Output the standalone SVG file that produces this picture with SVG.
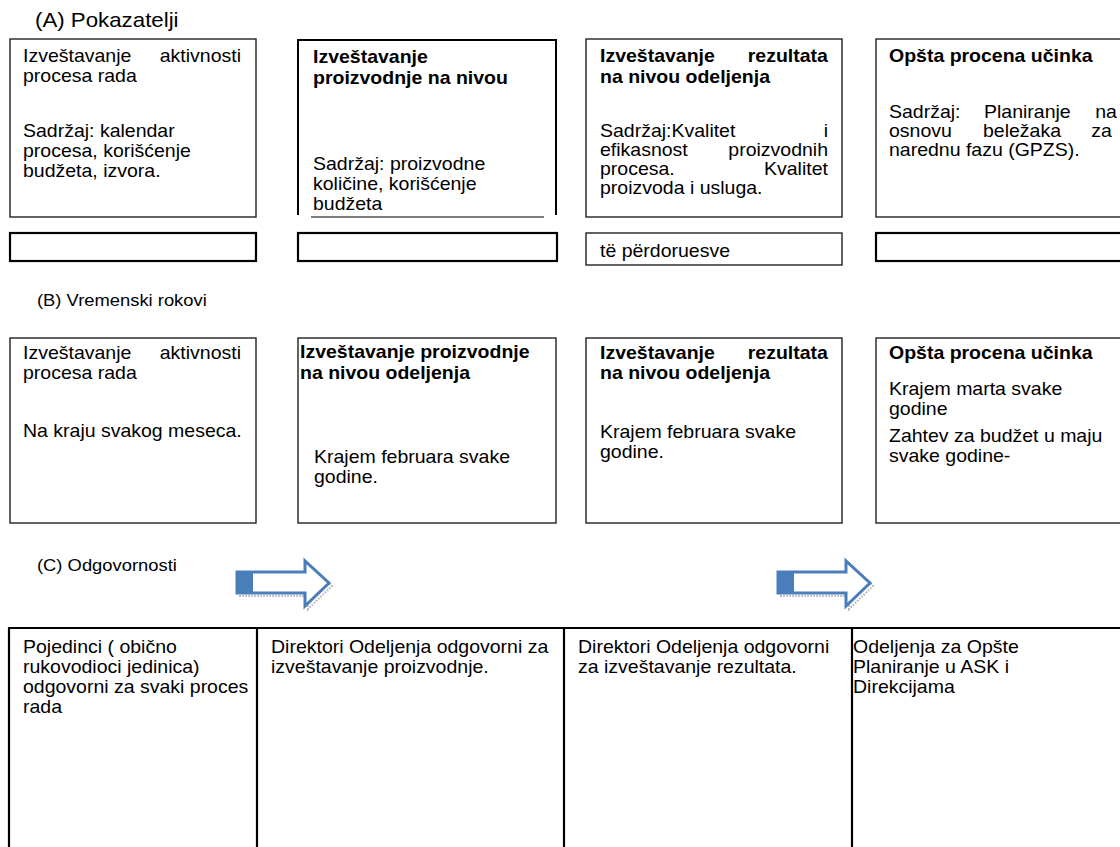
<svg xmlns="http://www.w3.org/2000/svg" width="1120" height="847" viewBox="0 0 1120 847">
<style>
text{font-family:"Liberation Sans",Arial,sans-serif;font-size:17.5px;fill:#000;transform-box:fill-box;transform-origin:left center;transform:scale(1.114,1)}
.b{font-weight:bold}
.e{text-anchor:end;transform-origin:right center}
.h{font-size:20px}
.s{font-size:16.5px}
.box{fill:#fff;stroke:#222;stroke-width:1.4}
.thick{fill:#fff;stroke:#000;stroke-width:2.2}
.grid{stroke:#000;stroke-width:2.2;fill:none}
.arr{fill:#fff;stroke:#4a7ebb;stroke-width:3;stroke-linejoin:miter}
.shadow{fill:none;stroke:#b0b0b0;stroke-width:2;stroke-dasharray:1.5 1.5}
</style>
<rect width="1120" height="847" fill="#fff"/>

<text class="h" x="35" y="27">(A) Pokazatelji</text>
<text class="s" x="37" y="306">(B) Vremenski rokovi</text>
<text class="s" x="37" y="571">(C) Odgovornosti</text>

<g id="a1">
<rect class="box" x="10" y="39" width="246" height="178"/>
<text x="23" y="62">Izveštavanje</text><text class="e" x="241" y="62">aktivnosti</text>
<text x="23" y="82">procesa rada</text>
<text x="23" y="137">Sadržaj: kalendar</text>
<text x="23" y="157">procesa, korišćenje</text>
<text x="23" y="177">budžeta, izvora.</text>
</g>
<g id="a2">
<path d="M298,215 V40 H556 V215" fill="none" stroke="#000" stroke-width="2"/>
<line x1="311" y1="217" x2="544" y2="217" stroke="#555" stroke-width="1.5"/>
<text class="b" x="313" y="63">Izveštavanje</text>
<text class="b" x="313" y="84">proizvodnje na nivou</text>
<text x="313" y="170">Sadržaj: proizvodne</text>
<text x="313" y="190">količine, korišćenje</text>
<text x="313" y="210">budžeta</text>
</g>
<g id="a3">
<rect class="box" x="586" y="39" width="256" height="178"/>
<text class="b" x="600" y="62">Izveštavanje</text><text class="b e" x="828" y="62">rezultata</text>
<text class="b" x="600" y="83">na nivou odeljenja</text>
<text x="600" y="137">Sadržaj:Kvalitet</text><text class="e" x="828" y="137">i</text>
<text x="600" y="156">efikasnost</text><text class="e" x="828" y="156">proizvodnih</text>
<text x="600" y="175">procesa.</text><text class="e" x="828" y="175">Kvalitet</text>
<text x="600" y="194">proizvoda i usluga.</text>
</g>
<g id="a4">
<rect class="box" x="876" y="39" width="250" height="178"/>
<text class="b" x="889" y="62">Opšta procena učinka</text>
<text x="889" y="118">Sadržaj:</text><text x="984" y="118">Planiranje</text><text class="e" x="1117" y="118">na</text>
<text x="889" y="137">osnovu</text><text x="983" y="137">beležaka</text><text class="e" x="1112" y="137">za</text>
<text x="889" y="156">narednu fazu (GPZS).</text>
</g>

<g id="a1s"><rect class="thick" x="10" y="233" width="246" height="28"/></g>
<g id="a2s"><rect class="thick" x="298" y="233" width="259" height="28"/></g>
<g id="a3s"><rect class="box" x="586" y="233" width="256" height="32"/><text x="600" y="257">të përdoruesve</text></g>
<g id="a4s"><rect class="thick" x="876" y="233" width="250" height="28"/></g>

<g id="b1">
<rect class="box" x="10" y="338" width="246" height="185"/>
<text x="23" y="359">Izveštavanje</text><text class="e" x="241" y="359">aktivnosti</text>
<text x="23" y="379">procesa rada</text>
<text x="23" y="437">Na kraju svakog meseca.</text>
</g>
<g id="b2">
<rect class="box" x="298" y="338" width="258" height="185"/>
<text class="b" x="300" y="358">Izveštavanje proizvodnje</text>
<text class="b" x="300" y="379">na nivou odeljenja</text>
<text x="314" y="463">Krajem februara svake</text>
<text x="314" y="483">godine.</text>
</g>
<g id="b3">
<rect class="box" x="586" y="338" width="256" height="185"/>
<text class="b" x="600" y="359">Izveštavanje</text><text class="b e" x="828" y="359">rezultata</text>
<text class="b" x="600" y="379">na nivou odeljenja</text>
<text x="600" y="438">Krajem februara svake</text>
<text x="600" y="458">godine.</text>
</g>
<g id="b4">
<rect class="box" x="876" y="338" width="250" height="185"/>
<text class="b" x="889" y="359">Opšta procena učinka</text>
<text x="889" y="395">Krajem marta svake</text>
<text x="889" y="415">godine</text>
<text x="889" y="442">Zahtev za budžet u maju</text>
<text x="889" y="462">svake godine-</text>
</g>

<g id="connectors">
<g id="arrow1">
<path class="shadow" d="M240,575 H308 V564 L332,586 L308,609 V596 H240 Z"/>
<path class="arr" d="M237,572 H305 V561 L329,583 L305,606 V593 H237 Z"/>
<rect x="236" y="571" width="17" height="23" fill="#4a7ebb"/>
</g>
<g id="arrow2">
<path class="shadow" d="M781,575 H849 V564 L873,586 L849,609 V596 H781 Z"/>
<path class="arr" d="M778,572 H846 V561 L870,583 L846,606 V593 H778 Z"/>
<rect x="777" y="571" width="17" height="23" fill="#4a7ebb"/>
</g>
</g>

<g id="table">
<path class="grid" d="M8,628 H1120 M9,628 V847 M257,628 V847 M564,628 V847 M852,628 V847"/>
</g>
<g id="c1">
<text x="23" y="653">Pojedinci ( obično</text>
<text x="23" y="673">rukovodioci jedinica)</text>
<text x="23" y="693">odgovorni za svaki proces</text>
<text x="23" y="713">rada</text>
</g>
<g id="c2">
<text x="271" y="653">Direktori Odeljenja odgovorni za</text>
<text x="271" y="673">izveštavanje proizvodnje.</text>
</g>
<g id="c3">
<text x="578" y="653">Direktori Odeljenja odgovorni</text>
<text x="578" y="673">za izveštavanje rezultata.</text>
</g>
<g id="c4">
<text x="853" y="653">Odeljenja za Opšte</text>
<text x="853" y="673">Planiranje u ASK i</text>
<text x="853" y="693">Direkcijama</text>
</g>
</svg>
